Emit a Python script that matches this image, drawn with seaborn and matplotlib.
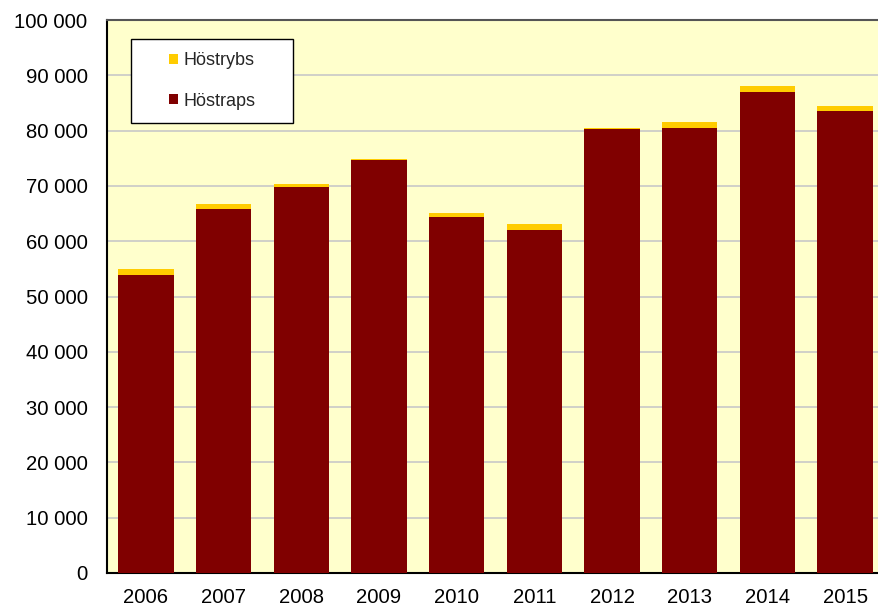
import matplotlib
matplotlib.use("Agg")
import matplotlib.pyplot as plt
import matplotlib.ticker as mticker
from matplotlib.patches import Patch, Rectangle
import seaborn as sns
import pandas as pd

years = ["2006", "2007", "2008", "2009", "2010", "2011", "2012", "2013", "2014", "2015"]
hostraps = [53900, 65800, 69850, 74600, 64400, 62000, 80200, 80500, 87000, 83600]
hostrybs = [1000, 900, 550, 300, 700, 1100, 300, 1000, 1000, 900]

df = pd.DataFrame({"year": years, "raps": hostraps, "rybs": hostrybs})
df["total"] = df["raps"] + df["rybs"]

sns.set_style("white")
plt.rcParams["font.family"] = ["Liberation Sans", "DejaVu Sans"]

RED = "#800000"
YELLOW = "#FFCC00"

fig = plt.figure(figsize=(8.79, 6.08), dpi=100)
ax = fig.add_axes([107 / 879, 35 / 608, 777 / 879, 553 / 608])
ax.set_facecolor("#FFFFCC")

sns.barplot(data=df, x="year", y="total", color=YELLOW, saturation=1,
            width=0.714, ax=ax, zorder=2, edgecolor="none")
sns.barplot(data=df, x="year", y="raps", color=RED, saturation=1,
            width=0.714, ax=ax, zorder=3, edgecolor="none")

ax.set_xlim(-0.5, len(years) - 0.5)
ax.set_ylim(0, 100000)
ax.yaxis.set_major_locator(mticker.MultipleLocator(10000))
ax.yaxis.set_major_formatter(mticker.FuncFormatter(lambda v, p: f"{int(v):,}".replace(",", " ")))
ax.grid(axis="y", color="#C8C8C8", linewidth=1.2, zorder=0)
ax.set_axisbelow(True)
ax.set_xlabel("")
ax.set_ylabel("")
ax.tick_params(axis="both", length=0, labelsize=14.6, colors="black")
ax.tick_params(axis="y", pad=14)
ax.tick_params(axis="x", pad=11)

for s in ["left", "bottom"]:
    ax.spines[s].set_color("black")
    ax.spines[s].set_linewidth(1.5)
ax.spines["top"].set_color("#555555")
ax.spines["top"].set_linewidth(1.5)
ax.spines["right"].set_color("#555555")

# legend box
fig.patches.append(Rectangle((131 / 879, 1 - 123 / 608), 162 / 879, 84 / 608,
                             transform=fig.transFigure, facecolor="white",
                             edgecolor="black", linewidth=1.0, zorder=5))
handles = [Patch(facecolor=YELLOW, edgecolor="none", label="Höstrybs"),
           Patch(facecolor=RED, edgecolor="none", label="Höstraps")]
leg = fig.legend(handles=handles, loc="center", bbox_to_anchor=(212 / 879, 1 - 81 / 608),
                 frameon=False, fontsize=13, handlelength=0.5, handleheight=0.5,
                 handletextpad=0.3, labelspacing=1.3)
leg.set_zorder(6)

fig.savefig("out.png", dpi=100, facecolor="white")
